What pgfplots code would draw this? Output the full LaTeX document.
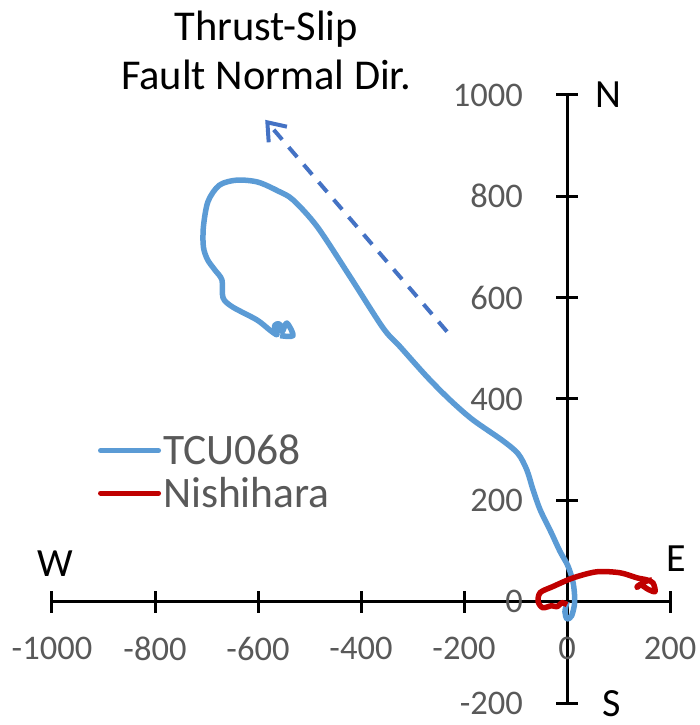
\documentclass[border=0pt]{standalone}
\usepackage{pgfplots}
\pgfplotsset{compat=1.18}
\usepackage{fontspec}
\setmainfont{Carlito}
\usetikzlibrary{arrows.meta}
\definecolor{tcu}{RGB}{91,155,213}
\definecolor{nish}{RGB}{192,0,0}
\definecolor{dashc}{RGB}{68,114,196}
\definecolor{lbl}{RGB}{89,89,89}
\begin{document}
\begin{tikzpicture}
\useasboundingbox (-52pt,-22pt) rectangle (647pt,703pt);
\begin{axis}[
  at={(0pt,0pt)}, anchor=south west,
  scale only axis, width=618pt, height=608pt,
  xmin=-1000, xmax=200, ymin=-200, ymax=1000,
  axis lines=middle,
  axis line style={line width=3pt, -, black},
  hide obscured x ticks=false, hide obscured y ticks=false,
  xtick={-1000,-800,-600,-400,-200,0,200},
  ytick={-200,0,200,400,600,800,1000},
  xticklabels={-1000,-800,-600,-400,-200,0,200},
  yticklabels={-200,0,200,400,600,800,1000},
  tick align=center, major tick length=22pt,
  tick style={line width=3pt, black},
  xticklabel style={anchor=center, yshift=-36pt, inner sep=0pt, font=\fontsize{34.5}{40}\selectfont, text=lbl},
  yticklabel style={anchor=east, xshift=-33pt, inner sep=0pt, font=\fontsize{34.5}{40}\selectfont, text=lbl},
  clip=false,
  legend style={at={(axis cs:-911,256)}, anchor=west, draw=none, fill=none,
    font=\fontsize{43.5}{43.5}\selectfont, text=lbl, inner sep=0pt, row sep=7pt,
    nodes={inner sep=2pt}},
  legend cell align=left,
  legend image code/.code={\draw[#1, line width=5pt, line cap=round] (0pt,0pt) -- (58pt,0pt);},
]
\addplot[tcu, line width=5.5pt, smooth, line join=round] coordinates {
(0,0) (-4,-20) (0,-34) (9,-28) (15,0) (12,37) (2,70) (-14,100) (-30,135)
(-52,181) (-66,221) (-78,260) (-95,292) (-125,318) (-183,359) (-227,398)
(-272,444) (-324,503) (-357,540) (-421,641) (-485,740) (-532,793) (-560,810)
(-600,828) (-641,832) (-675,822) (-697,790) (-706,740) (-706,700) (-698,675)
(-684,655) (-670,635) (-668,600) (-650,582) (-602,556) (-577,536) (-563,527)
(-568,545) (-558,548) (-553,533) (-544,550) (-532,525) (-557,525)
};
\addlegendentry{TCU068}
\addplot[nish, line width=5.5pt, smooth, line join=round] coordinates {
(0,-6) (-10,-2) (-19,-10) (-30,-8) (-47,-12) (-56,0) (-52,18) (-27,30)
(12,47) (58,59) (103,57) (136,47) (155,43) (167,37) (171,20) (158,24)
(142,34) (136,28) (150,39) (165,43)
};
\addlegendentry{Nishihara}
\addplot[dashc, line width=4pt, dash pattern=on 13pt off 10pt,
  -{Straight Barb[length=16pt, width=24pt]}, forget plot] coordinates {(-233,533) (-586,951)};
\node[anchor=base, inner sep=0pt, font=\fontsize{42.5}{42.5}\selectfont] at (axis cs:-584,1108) {Thrust-Slip};
\node[anchor=base, inner sep=0pt, font=\fontsize{42.5}{42.5}\selectfont] at (axis cs:-584,1010) {Fault Normal Dir.};
\node[anchor=base, inner sep=0pt, font=\fontsize{40}{40}\selectfont] at (axis cs:80,976) {N};
\node[anchor=base, inner sep=0pt, font=\fontsize{40}{40}\selectfont] at (axis cs:213,59) {E};
\node[anchor=base, inner sep=0pt, font=\fontsize{40}{40}\selectfont] at (axis cs:-994,49) {W};
\node[anchor=base, inner sep=0pt, font=\fontsize{40}{40}\selectfont] at (axis cs:87,-226) {S};
\end{axis}
\end{tikzpicture}
\end{document}
